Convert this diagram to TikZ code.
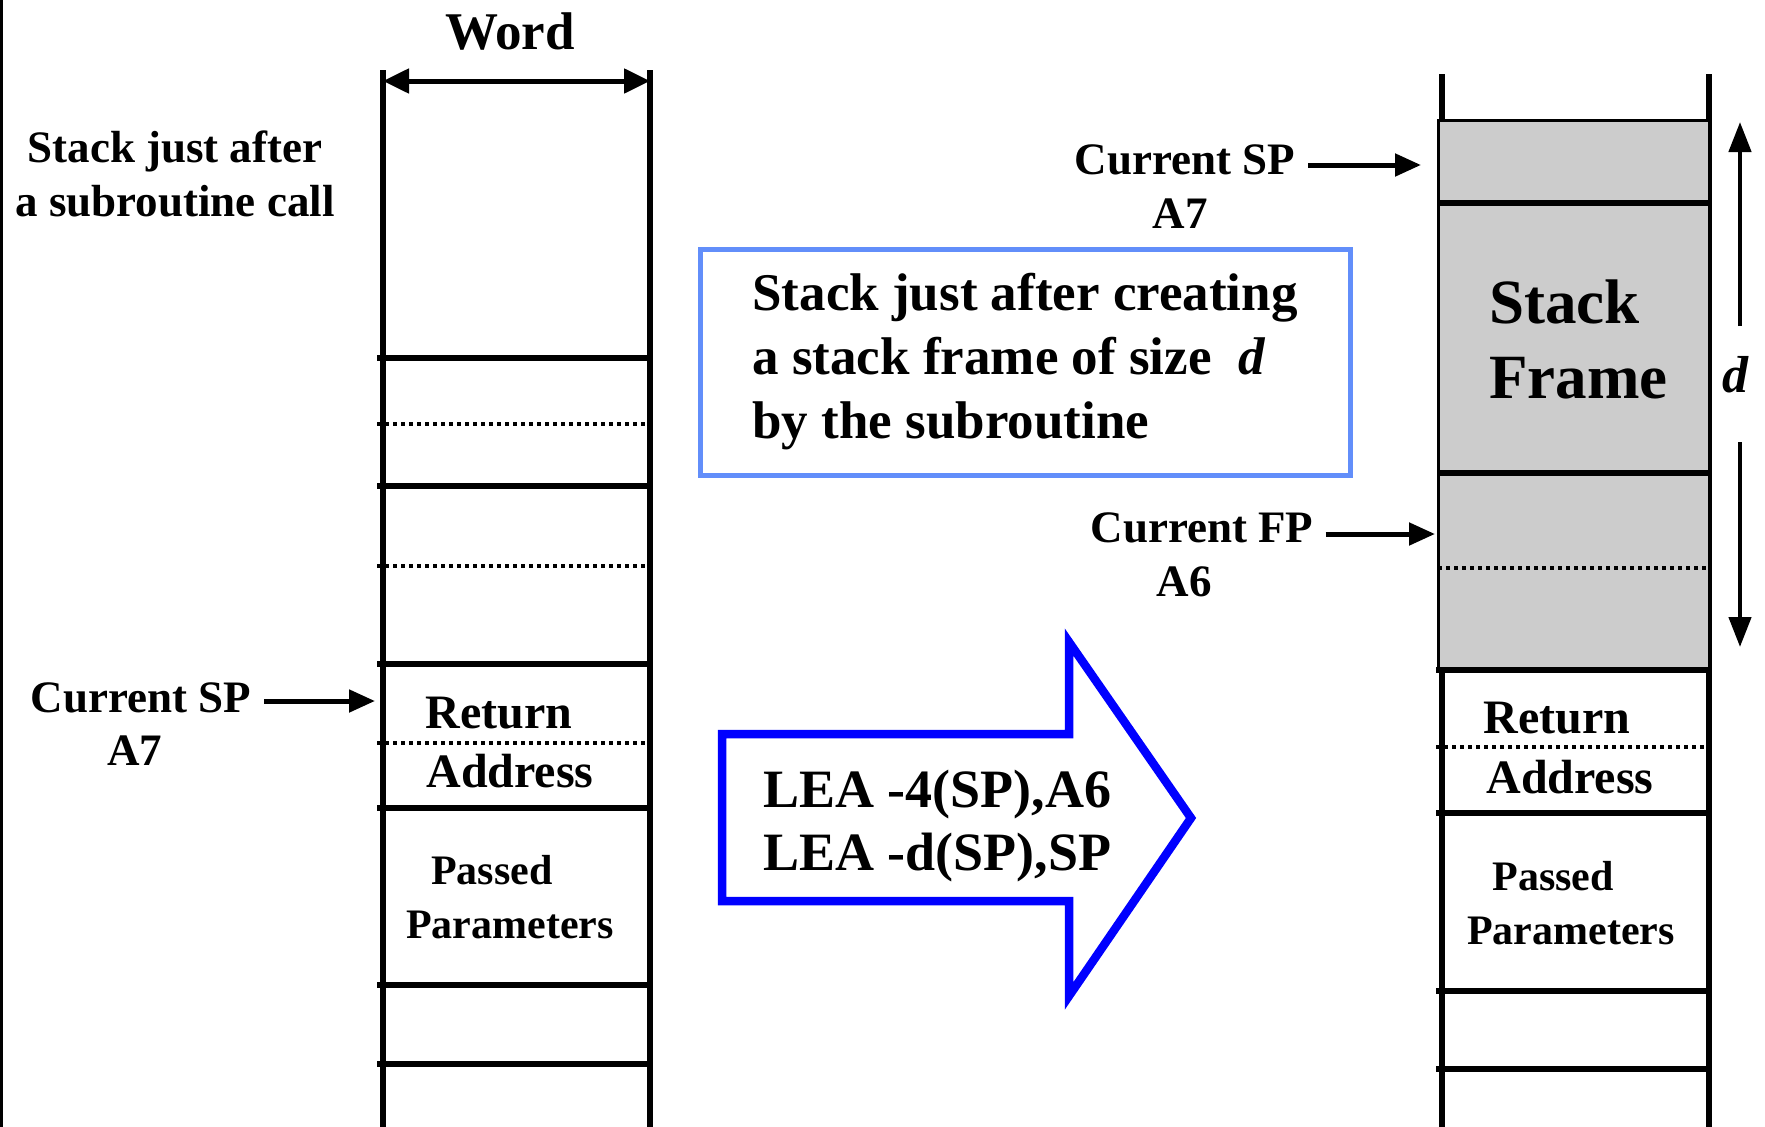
\documentclass[tikz,border=0pt]{standalone}
\usepackage{fontspec}
\setmainfont{Liberation Serif}
\usetikzlibrary{arrows.meta,positioning,calc}
\definecolor{boxblue}{RGB}{98,142,250}
\definecolor{framegray}{RGB}{204,204,204}
\newcommand{\sz}[2]{\fontsize{#1}{#2}\selectfont}
\tikzset{
  wall/.style={line width=5.5pt},
  slotdot/.style={line width=3.5pt, dash pattern=on 3.5pt off 4.5pt},
  ptr/.style={-{Triangle[length=26pt,width=22pt]}, line width=5pt},
  lbl/.style={inner sep=0pt, font=\bfseries\sz{45}{54}},
}

\begin{document}
\begin{tikzpicture}[
  x=1pt, y=-1pt,
  cell/.style={lbl, font=\bfseries\sz{48}{56}},
  cellsm/.style={lbl, font=\bfseries\sz{42}{50}},
  darr/.style={-{Triangle[length=30pt,width=22pt]}, line width=4.5pt},
]
  \useasboundingbox (0,0) rectangle (1765,1127);
  \fill (0,0) rectangle (3,1127);

  % stack before
  \draw[wall] (383,70) -- (383,1127);
  \draw[wall] (650,70) -- (650,1127);
  \foreach \y in {358,486,664,808,985,1064}
    \draw[wall] (377,\y) -- (650,\y);
  \foreach \y in {424,566,743}
    \draw[slotdot] (377,\y) -- (650,\y);
  \coordinate (wl) at (383,81);
  \coordinate (wr) at (650,81);
  \draw[{Triangle[length=26pt,width=24pt]}-{Triangle[length=26pt,width=24pt]}, line width=5pt] (wl) -- (wr);
  \node[lbl, font=\bfseries\sz{53}{60}] (word) at (510,32) {Word};
  \node[lbl, align=center] (before) at (175,174) {Stack just after\\a subroutine call};
  \node[lbl] (lsp) at (141,698) {Current SP};
  \node[lbl] (la7) at (135,751) {A7};
  \coordinate (lspt) at (375,701);
  \draw[ptr] ($(lsp.east |- lspt)+(13,0)$) -- (lspt);
  \node[cell] (lret) at (499,713) {Return};
  \node[cell] (ladr) at (510,771) {Address};
  \node[cellsm] (lpas) at (492,870) {Passed};
  \node[cellsm] (lpar) at (510,925) {Parameters};

  % note box
  \node[draw=boxblue, line width=5pt, minimum width=650pt, minimum height=226pt,
        align=left, font=\bfseries\sz{53}{64}, inner sep=0pt] (note) at (1025,362)
    {Stack just after creating\\a stack frame of size \ \textit{d}\\by the subroutine};

  % transition arrow
  \draw[draw=blue, fill=white, line width=8.5pt, line join=miter]
    (722,734) -- (1069,734) -- (1069,642) -- (1191,818) -- (1069,996) -- (1069,901) -- (722,901) -- cycle;
  \node[lbl, align=left, anchor=west, font=\bfseries\sz{54}{63}] (lea) at (763,826)
    {LEA -4(SP),A6\\LEA -d(SP),SP};

  % stack after
  \draw[wall] (1442,74) -- (1442,1127);
  \draw[wall] (1709,74) -- (1709,1127);
  \filldraw[fill=framegray, line width=3pt] (1438,120) rectangle (1709,668);
  \foreach \y in {203,473}
    \draw[wall] (1438,\y) -- (1709,\y);
  \draw[slotdot] (1438,568) -- (1709,568);
  \foreach \y in {670,813,991,1069}
    \draw[wall] (1436,\y) -- (1709,\y);
  \draw[slotdot] (1436,747) -- (1709,747);
  \node[lbl, align=left, anchor=west, font=\bfseries\sz{63}{75}] (frame) at (1489,339) {Stack\\Frame};
  \node[cell] (rret) at (1557,718) {Return};
  \node[cell] (radr) at (1570,777) {Address};
  \node[cellsm] (rpas) at (1553,876) {Passed};
  \node[cellsm] (rpar) at (1571,931) {Parameters};

  \node[lbl] (rsp) at (1185,160) {Current SP};
  \node[lbl] (ra7) at (1180,214) {A7};
  \coordinate (rspt) at (1421,165);
  \draw[ptr] ($(rsp.east |- rspt)+(13,0)$) -- (rspt);
  \node[lbl] (rfp) at (1202,528) {Current FP};
  \node[lbl] (ra6) at (1184,582) {A6};
  \coordinate (rfpt) at (1435,534);
  \draw[ptr] ($(rfp.east |- rfpt)+(12,0)$) -- (rfpt);

  % size d
  \node[lbl, font=\bfseries\itshape\sz{52}{60}] (dlbl) at (1735,375) {d};
  \coordinate (dup) at (1740,326);
  \coordinate (dtop) at (1740,122);
  \coordinate (ddn) at (1740,442);
  \coordinate (dbot) at (1740,647);
  \draw[darr] (dup) -- (dtop);
  \draw[darr] (ddn) -- (dbot);
\end{tikzpicture}
\end{document}
